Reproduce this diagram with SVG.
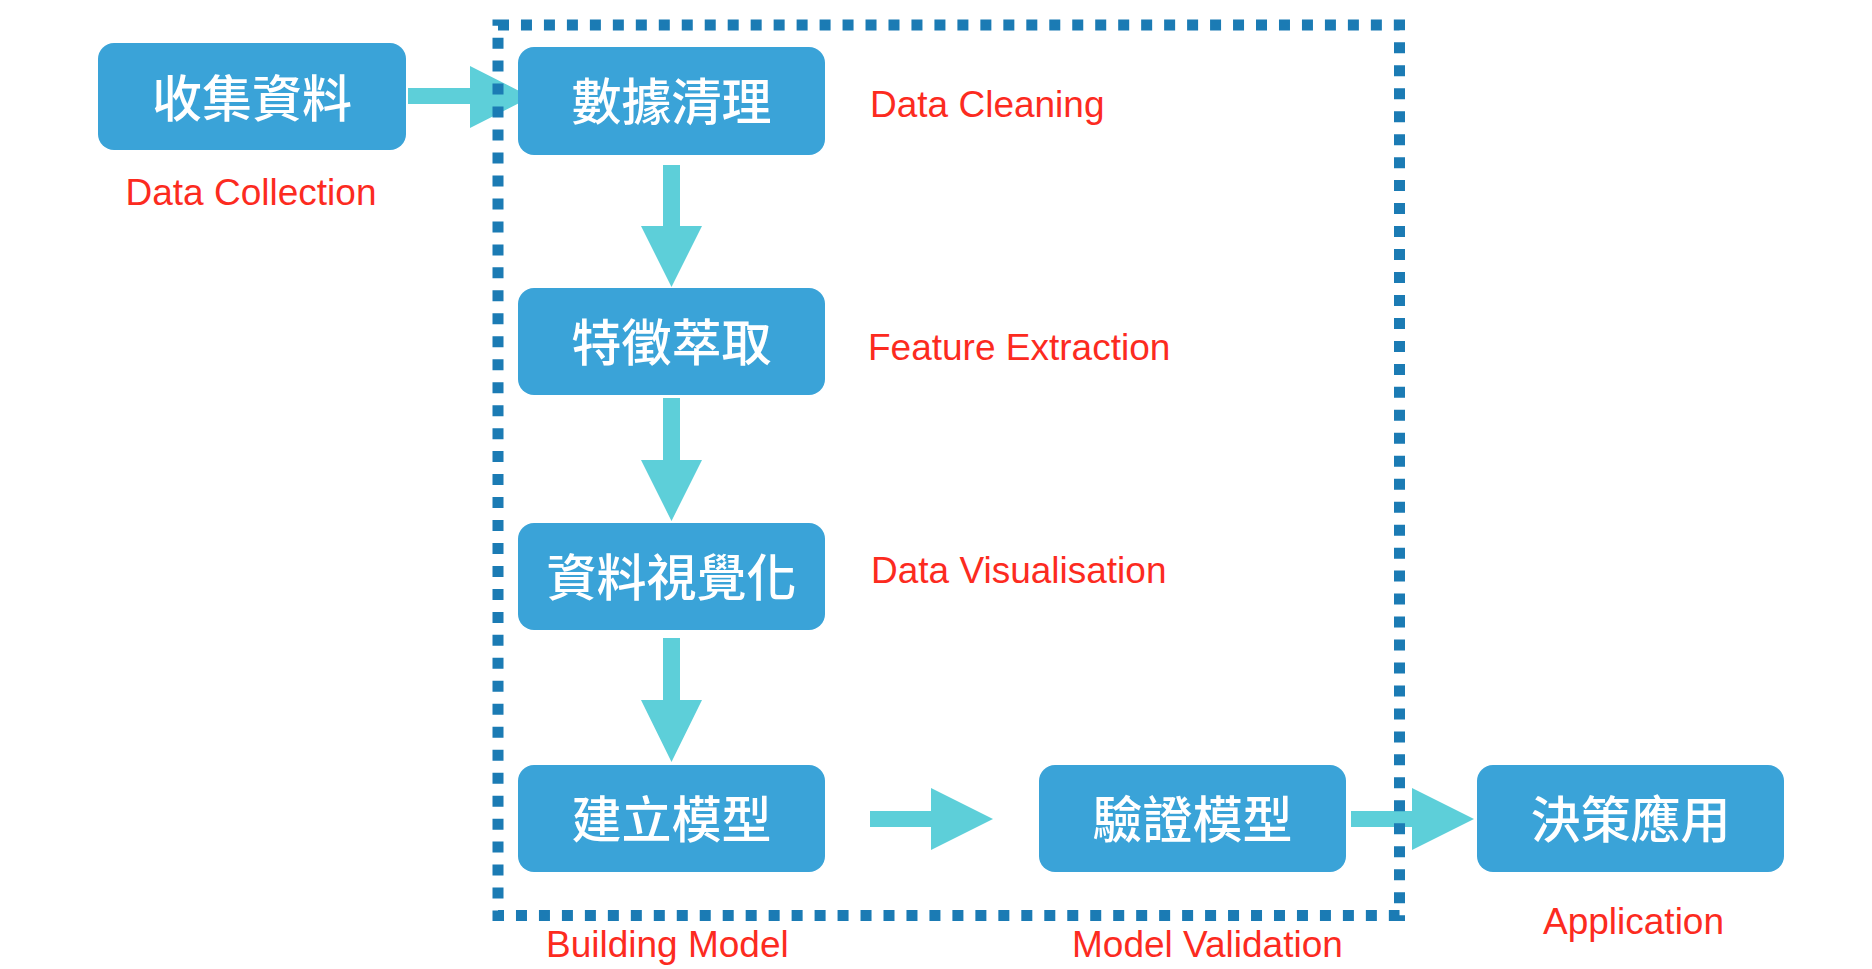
<svg xmlns="http://www.w3.org/2000/svg" width="1872" height="969" viewBox="0 0 1872 969">
<style>
.box{fill:#3aa3d8;}
.zh{font-family:"Noto Sans CJK TC","Noto Sans CJK SC",sans-serif;font-size:50px;font-weight:500;fill:#ffffff;text-anchor:middle;}
.en{font-family:"Liberation Sans",Arial,sans-serif;font-size:37px;fill:#fc2b1f;}
.arrow{fill:#5dcfd9;}
.frame{fill:none;stroke:#1b7bb4;stroke-width:11;stroke-dasharray:11 11.97;}
</style>
<rect width="1872" height="969" fill="#ffffff"/>
<g id="connectors">
<polygon class="arrow" points="408,88 470,88 470,66 531,97 470,128 470,104 408,104"/>
<polygon class="arrow" points="663,165 680,165 680,226 702,226 671.5,287 641,226 663,226"/>
<polygon class="arrow" points="663,398 680,398 680,460 702,460 671.5,521 641,460 663,460"/>
<polygon class="arrow" points="663,638 680,638 680,700 702,700 671.5,762 641,700 663,700"/>
<polygon class="arrow" points="870,811 931,811 931,788 993,819 931,850 931,827 870,827"/>
<polygon class="arrow" points="1351,811 1412,811 1412,788 1474,819 1412,850 1412,827 1351,827"/>
</g>
<g id="frame">
<rect class="frame" x="498" y="25" width="901.5" height="890.5"/>
</g>
<g id="node-collect">
<rect class="box" x="98" y="43" width="308" height="107" rx="16"/>
<text class="zh" x="252" y="117">收集資料</text>
<text class="en" x="251" y="205" text-anchor="middle">Data Collection</text>
</g>
<g id="node-clean">
<rect class="box" x="518" y="47" width="307" height="108" rx="16"/>
<text class="zh" x="671.5" y="120">數據清理</text>
<text class="en" x="870" y="117">Data Cleaning</text>
</g>
<g id="node-feature">
<rect class="box" x="518" y="288" width="307" height="107" rx="16"/>
<text class="zh" x="671.5" y="361">特徵萃取</text>
<text class="en" x="868" y="360">Feature Extraction</text>
</g>
<g id="node-visual">
<rect class="box" x="518" y="523" width="307" height="107" rx="16"/>
<text class="zh" x="671.5" y="596">資料視覺化</text>
<text class="en" x="871" y="583">Data Visualisation</text>
</g>
<g id="node-build">
<rect class="box" x="518" y="765" width="307" height="107" rx="16"/>
<text class="zh" x="671.5" y="838">建立模型</text>
<text class="en" x="546" y="957">Building Model</text>
</g>
<g id="node-validate">
<rect class="box" x="1039" y="765" width="307" height="107" rx="16"/>
<text class="zh" x="1192.5" y="838">驗證模型</text>
<text class="en" x="1072" y="957">Model Validation</text>
</g>
<g id="node-apply">
<rect class="box" x="1477" y="765" width="307" height="107" rx="16"/>
<text class="zh" x="1630.5" y="838">決策應用</text>
<text class="en" x="1543" y="934">Application</text>
</g>
</svg>
